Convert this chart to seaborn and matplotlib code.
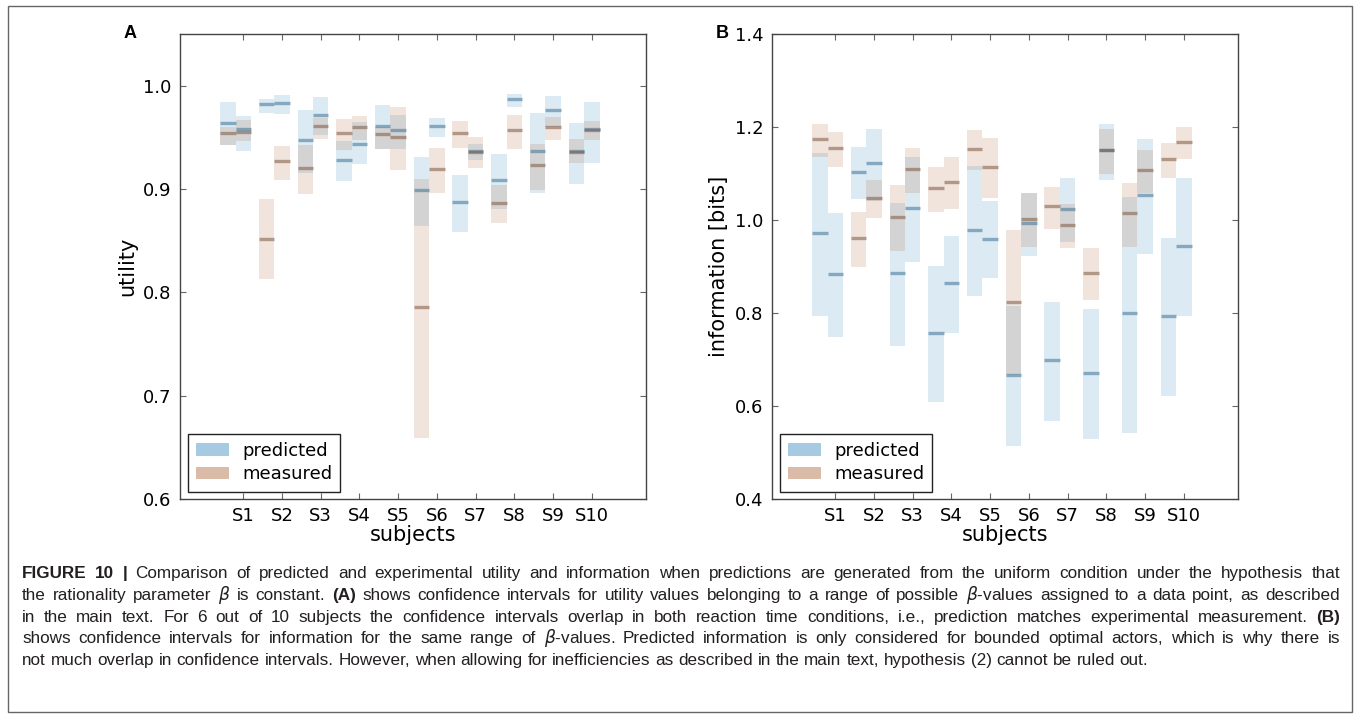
import numpy as np
import matplotlib
matplotlib.use("Agg")
import matplotlib.pyplot as plt
from matplotlib.patches import Patch, Rectangle
import seaborn as sns

# ---------------- data ----------------
subjects = ["S1", "S2", "S3", "S4", "S5", "S6", "S7", "S8", "S9", "S10"]

# utility: (low, high, median) per subject, condition 1 / condition 2
util_pred_c1 = [(0.943, 0.984, 0.964), (0.974, 0.987, 0.982), (0.915, 0.976, 0.947), (0.908, 0.946, 0.928),
                (0.939, 0.981, 0.961), (0.8645, 0.931, 0.899), (0.858, 0.914, 0.887), (0.881, 0.934, 0.9087),
                (0.896, 0.974, 0.937), (0.905, 0.964, 0.937)]
util_pred_c2 = [(0.937, 0.971, 0.958), (0.973, 0.991, 0.9836), (0.952, 0.989, 0.972), (0.924, 0.965, 0.944),
                (0.939, 0.972, 0.957), (0.950, 0.969, 0.961), (0.928, 0.944, 0.937), (0.979, 0.992, 0.987),
                (0.960, 0.990, 0.976), (0.925, 0.984, 0.958)]
util_meas_c1 = [(0.943, 0.960, 0.9545), (0.8126, 0.890, 0.852), (0.895, 0.943, 0.920), (0.938, 0.9675, 0.9545),
                (0.939, 0.960, 0.953), (0.659, 0.910, 0.7855), (0.940, 0.9655, 0.954), (0.867, 0.904, 0.8865),
                (0.899, 0.944, 0.923), (0.925, 0.948, 0.936)]
util_meas_c2 = [(0.9465, 0.967, 0.9555), (0.909, 0.942, 0.927), (0.948, 0.969, 0.961), (0.947, 0.971, 0.960),
                (0.918, 0.979, 0.950), (0.896, 0.940, 0.919), (0.920, 0.950, 0.936), (0.939, 0.972, 0.957),
                (0.947, 0.970, 0.960), (0.947, 0.966, 0.957)]

# information [bits]: (low, high, median)
info_pred_c1 = [(0.794, 1.145, 0.973), (1.046, 1.157, 1.104), (0.730, 1.036, 0.885), (0.608, 0.901, 0.757),
                (0.837, 1.117, 0.979), (0.515, 0.814, 0.667), (0.567, 0.824, 0.698), (0.530, 0.809, 0.672),
                (0.542, 1.050, 0.799), (0.621, 0.961, 0.794)]
info_pred_c2 = [(0.748, 1.016, 0.884), (1.041, 1.196, 1.122), (0.910, 1.135, 1.025), (0.758, 0.966, 0.864),
                (0.876, 1.040, 0.960), (0.923, 1.058, 0.994), (0.952, 1.090, 1.024), (1.085, 1.2065, 1.150),
                (0.927, 1.174, 1.054), (0.794, 1.090, 0.945)]
info_meas_c1 = [(1.135, 1.207, 1.175), (0.8995, 1.017, 0.962), (0.934, 1.075, 1.007), (1.018, 1.115, 1.069),
                (1.1065, 1.193, 1.1525), (0.667, 0.979, 0.824), (0.981, 1.072, 1.030), (0.827, 0.940, 0.887),
                (0.942, 1.080, 1.014), (1.090, 1.166, 1.131)]
info_meas_c2 = [(1.115, 1.1885, 1.155), (1.004, 1.086, 1.048), (1.058, 1.154, 1.109), (1.023, 1.136, 1.082),
                (1.047, 1.176, 1.114), (0.943, 1.058, 1.003), (0.940, 1.035, 0.990), (1.0996, 1.196, 1.151),
                (1.058, 1.150, 1.108), (1.131, 1.199, 1.168)]

util_ticks = [0.6, 0.7, 0.8, 0.9, 1.0]
info_ticks = [0.4, 0.6, 0.8, 1.0, 1.2, 1.4]

caption_lines = [
    "*FIGURE *10 *| Comparison of predicted and experimental utility and information when predictions are generated from the uniform condition under the hypothesis that",
    "the rationality parameter $\\beta$ is constant. *(A) shows confidence intervals for utility values belonging to a range of possible $\\beta$-values assigned to a data point, as described",
    "in the main text. For 6 out of 10 subjects the confidence intervals overlap in both reaction time conditions, i.e., prediction matches experimental measurement. *(B)",
    "shows confidence intervals for information for the same range of $\\beta$-values. Predicted information is only considered for bounded optimal actors, which is why there is",
    "not much overlap in confidence intervals. However, when allowing for inefficiencies as described in the main text, hypothesis (2) cannot be ruled out.",
]

# ---------------- style ----------------
sns.set_theme(style="ticks")
plt.rcParams["font.family"] = ["DejaVu Sans"]
plt.rcParams["mathtext.fontset"] = "dejavusans"
plt.rcParams["text.color"] = "black"
plt.rcParams["axes.labelcolor"] = "black"
plt.rcParams["xtick.labelcolor"] = "black"
plt.rcParams["ytick.labelcolor"] = "black"

BLUE = "#5096c8"
BROWN = "#b47850"
BLUE_MED = "#3d7396"
BROWN_MED = "#7f5840"
SPINE = "#444444"

W, H = 1360, 716
fig = plt.figure(figsize=(W / 100, H / 100), dpi=100)


def px_axes(l, t, r, b):
    return fig.add_axes([l / W, 1 - b / H, (r - l) / W, (b - t) / H])


axA = px_axes(180, 34, 646, 499)
axB = px_axes(772, 34, 1238, 499)


def draw(ax, pred1, pred2, meas1, meas2):
    x = np.arange(1, len(subjects) + 1)
    for c, (pred, meas) in enumerate([(pred1, meas1), (pred2, meas2)]):
        left = x - 0.6 + 0.4 * c
        for data, col, mcol in [(pred, BLUE, BLUE_MED), (meas, BROWN, BROWN_MED)]:
            arr = np.array(data)
            lo, hi, med = arr[:, 0], arr[:, 1], arr[:, 2]
            ax.bar(left, hi - lo, bottom=lo, width=0.4, align="edge",
                   color=col, alpha=0.2, linewidth=0)
            ax.hlines(med, left, left + 0.4, colors=mcol, alpha=0.55, lw=2.4)
    ax.set_xticks(x)
    ax.set_xticklabels(subjects)
    ax.set_xlim(-0.635, 11.4)
    ax.set_xlabel("subjects", fontsize=15, labelpad=0)
    ax.tick_params(direction="in", top=True, right=True, length=4, width=0.8,
                   color="#666666", labelsize=13, pad=6)
    for s in ax.spines.values():
        s.set_visible(True)
        s.set_color(SPINE)
        s.set_linewidth(1.0)
    leg = ax.legend(handles=[Patch(facecolor=BLUE, alpha=0.5, edgecolor="none", label="predicted"),
                             Patch(facecolor=BROWN, alpha=0.5, edgecolor="none", label="measured")],
                    loc="lower left", bbox_to_anchor=(0.017, 0.016), borderaxespad=0,
                    fontsize=13, fancybox=False, framealpha=1, handlelength=1.8,
                    handletextpad=0.75, labelspacing=0.3, borderpad=0.45)
    leg.get_frame().set_edgecolor("#222222")
    leg.get_frame().set_linewidth(1.0)


draw(axA, util_pred_c1, util_pred_c2, util_meas_c1, util_meas_c2)
axA.set_ylim(0.6, 1.05)
axA.set_yticks(util_ticks)
axA.set_yticklabels([f"{v:.1f}" for v in util_ticks])
axA.set_ylabel("utility", fontsize=15, labelpad=4)

draw(axB, info_pred_c1, info_pred_c2, info_meas_c1, info_meas_c2)
axB.set_ylim(0.4, 1.4)
axB.set_yticks(info_ticks)
axB.set_yticklabels([f"{v:.1f}" for v in info_ticks])
axB.set_ylabel("information [bits]", fontsize=15, labelpad=4)

fig.text(130 / W, 1 - 33 / H, "A", fontsize=13, weight="bold", family="Liberation Sans",
         ha="center", va="center")
fig.text(722 / W, 1 - 33 / H, "B", fontsize=13, weight="bold", family="Liberation Sans",
         ha="center", va="center")

# outer frame
fig.add_artist(Rectangle((8 / W, 1 - 712 / H), (1352 - 8) / W, (712 - 6) / H,
                         transform=fig.transFigure, fill=False, edgecolor="#666666", lw=1.0))

# ---------------- caption (justified) ----------------
CAP_FS = 12.35
X0, X1 = 22, 1340
baselines = [578, 600, 622, 643, 665]
renderer = fig.canvas.get_renderer()


def mk(tok, x, y):
    bold = tok.startswith("*")
    s = tok.lstrip("*")
    return fig.text(x / W, 1 - y / H, s, fontsize=CAP_FS, family=["Liberation Sans", "DejaVu Sans"],
                    weight="bold" if bold else "normal", ha="left", va="baseline", color="#231f20")


probe1 = mk("a a", 0, -100)
probe2 = mk("aa", 0, -100)
space_w = probe1.get_window_extent(renderer).width - probe2.get_window_extent(renderer).width
probe1.remove()
probe2.remove()

for li, (line, yb) in enumerate(zip(caption_lines, baselines)):
    toks = line.split(" ")
    arts = [mk(t, 0, yb) for t in toks]
    widths = [a.get_window_extent(renderer).width for a in arts]
    if li < len(caption_lines) - 1:
        gap = (X1 - X0 - sum(widths)) / (len(toks) - 1)
    else:
        gap = space_w
    x = X0
    for a, w in zip(arts, widths):
        a.set_x(x / W)
        x += w + gap

fig.savefig("out.png", dpi=100)
